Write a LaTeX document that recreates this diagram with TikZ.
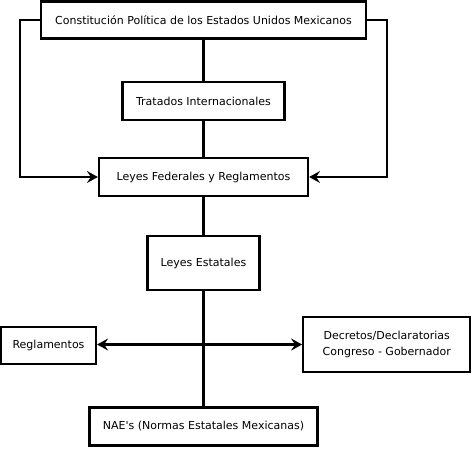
\documentclass[tikz,border=0pt]{standalone}
\usepackage{fontspec}
\setmainfont{DejaVu Sans}
\usetikzlibrary{arrows.meta}
\begin{document}
\begin{tikzpicture}[x=1pt,y=-1pt,
  box/.style={draw=black,line width=2.2pt,rectangle,inner sep=0pt,align=center,
    font=\fontsize{11}{15.5}\selectfont},
  conn/.style={line width=2.2pt},
  tip/.tip={Stealth[length=11pt,width=12pt,inset=4pt]},
  arr/.style={line width=2.2pt,-tip}]
\useasboundingbox (0,0) rectangle (473,448);
\node[box,minimum width=325pt,minimum height=37pt] (top) at (203.5,20) {Constitución Política de los Estados Unidos Mexicanos};
\node[box,minimum width=162pt,minimum height=38pt] (trat) at (203.5,101) {Tratados Internacionales};
\node[box,minimum width=209pt,minimum height=38pt] (lf) at (203.5,177) {Leyes Federales y Reglamentos};
\node[box,minimum width=112pt,minimum height=54pt] (le) at (203.5,263) {Leyes Estatales};
\node[box,minimum width=95pt,minimum height=37pt] (reg) at (48.5,345.5) {Reglamentos};
\node[box,minimum width=167pt,minimum height=55pt] (dec) at (386.7,344.5) {Decretos/Declaratorias\\Congreso - Gobernador};
\node[box,minimum width=228pt,minimum height=38pt] (nae) at (203.5,426.5) {NAE\textquotesingle s (Normas Estatales Mexicanas)};
\coordinate (L) at (20,20);
\coordinate (R) at (386.7,20);
\coordinate (hl) at (reg.east |- 0,344.5);
\coordinate (hr) at (dec.west |- 0,344.5);
\draw[conn] (top.south) -- (trat.north);
\draw[conn] (trat.south) -- (lf.north);
\draw[conn] (lf.south) -- (le.north);
\draw[conn] (le.south) -- (nae.north);
\draw[arr] (top.west) -- (L) |- (lf.west);
\draw[arr] (top.east) -- (R) |- (lf.east);
\draw[line width=2.2pt,tip-tip] (hl) -- (hr);
\end{tikzpicture}
\end{document}
